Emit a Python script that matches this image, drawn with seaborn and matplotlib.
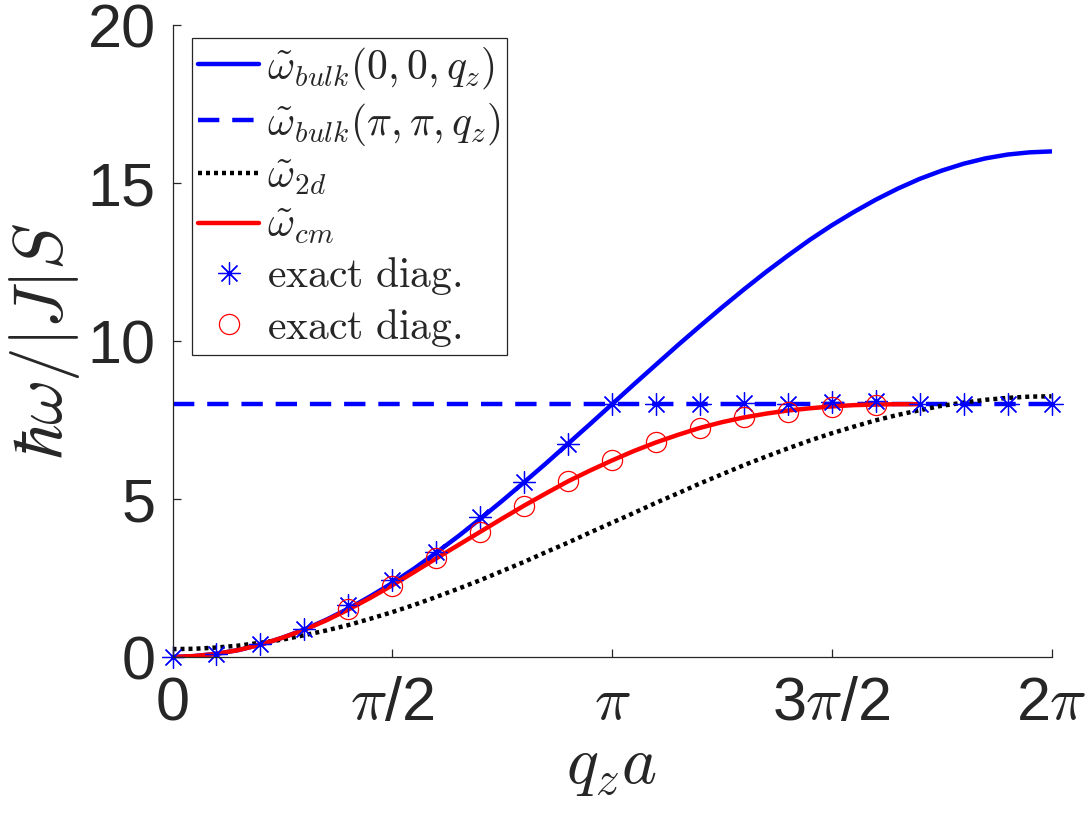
import numpy as np
import matplotlib
matplotlib.use("Agg")
import matplotlib.pyplot as plt
import seaborn as sns

# q_z a grid (units of pi) for the smooth curves, step pi/20
q_line = np.arange(41) / 20.0
w_bulk_00 = [0.0, 0.03, 0.10, 0.22, 0.39, 0.61, 0.87, 1.18, 1.53, 1.92,
             2.34, 2.80, 3.30, 3.82, 4.37, 4.94, 5.53, 6.13, 6.75, 7.37,
             8.00, 8.63, 9.25, 9.87, 10.47, 11.06, 11.63, 12.18, 12.70, 13.20,
             13.66, 14.08, 14.47, 14.82, 15.13, 15.39, 15.61, 15.78, 15.90, 15.97,
             16.00]
w_2d = [0.25, 0.26, 0.30, 0.36, 0.45, 0.55, 0.69, 0.84, 1.01, 1.21,
        1.42, 1.65, 1.90, 2.16, 2.43, 2.72, 3.01, 3.32, 3.62, 3.94,
        4.25, 4.56, 4.88, 5.18, 5.49, 5.78, 6.07, 6.34, 6.60, 6.85,
        7.08, 7.29, 7.49, 7.66, 7.81, 7.95, 8.05, 8.14, 8.20, 8.24,
        8.25]
# omega_cm stops at 1.7 pi
q_cm = np.arange(35) / 20.0
w_cm = [0.0, 0.03, 0.10, 0.22, 0.39, 0.61, 0.86, 1.16, 1.50, 1.87,
        2.27, 2.69, 3.12, 3.54, 3.96, 4.38, 4.79, 5.18, 5.56, 5.90,
        6.22, 6.52, 6.79, 7.03, 7.25, 7.43, 7.58, 7.70, 7.80, 7.87,
        7.93, 7.97, 7.99, 8.00, 8.00]
q_flat = [0.0, 2.0]
w_bulk_pp = [8.0, 8.0]

# exact diagonalisation points, step pi/10
q_ed = np.arange(21) / 10.0
ed_bulk = [0.0, 0.10, 0.40, 0.90, 1.65, 2.44, 3.33, 4.44, 5.55, 6.74,
           8.00, 8.00, 8.00, 8.05, 8.02, 8.08, 8.10, 8.00, 8.00, 8.00, 8.00]
q_ed_cm = np.arange(4, 17) / 10.0
ed_cm = [1.52, 2.25, 3.12, 3.94, 4.79, 5.58, 6.24, 6.80, 7.24, 7.58,
         7.76, 7.90, 7.97]

xticks = [0, 0.5, 1.0, 1.5, 2.0]
xtick_labels = ["0", r"$\pi$/2", r"$\pi$", r"3$\pi$/2", r"2$\pi$"]
yticks = [0, 5, 10, 15, 20]

sns.set_style("ticks")
plt.rcParams["font.family"] = ["Liberation Sans", "DejaVu Sans"]
plt.rcParams["mathtext.fontset"] = "cm"

dark = "#262626"
fig = plt.figure(figsize=(10.9, 8.25), dpi=100)
ax = fig.add_axes([172.5 / 1090, 1 - 657 / 825, 879 / 1090, 632 / 825])

sns.lineplot(x=q_line, y=w_bulk_00, ax=ax, color="blue", lw=3.2,
             errorbar=None, label=r"$\tilde{\omega}_{bulk}(0,0,q_z)$")
sns.lineplot(x=q_flat, y=w_bulk_pp, ax=ax, color="blue", lw=3.2,
             linestyle=(0, (4.8, 2.9)), errorbar=None,
             label=r"$\tilde{\omega}_{bulk}(\pi,\pi,q_z)$")
sns.lineplot(x=q_line, y=w_2d, ax=ax, color="black", lw=3.2,
             linestyle=(0, (0.9, 0.9)), errorbar=None,
             label=r"$\tilde{\omega}_{2d}$")
sns.lineplot(x=q_cm, y=w_cm, ax=ax, color="red", lw=3.2,
             errorbar=None, label=r"$\tilde{\omega}_{cm}$")
sns.lineplot(x=q_ed, y=ed_bulk, ax=ax, linestyle="", marker=(8, 2, 0),
             markersize=16, mec="blue", mew=0.9, color="blue",
             errorbar=None, label=r"$\mathrm{exact\ diag.}$", clip_on=False)
sns.lineplot(x=q_ed_cm, y=ed_cm, ax=ax, linestyle="", marker="o",
             markersize=14.5, mfc="none", mec="red", mew=0.9, color="red",
             errorbar=None, label=r"$\mathrm{exact\ diag.}$")

ax.set_xlim(0, 2)
ax.set_ylim(0, 20)
ax.set_xticks(xticks)
ax.set_xticklabels(xtick_labels)
ax.set_yticks(yticks)
sns.despine(ax=ax)
for side in ["left", "bottom"]:
    ax.spines[side].set_color(dark)
    ax.spines[side].set_linewidth(0.9)
ax.tick_params(direction="in", length=6, width=0.9, color=dark,
               labelcolor=dark, labelsize=44)
ax.tick_params(axis="x", pad=14)
ax.tick_params(axis="y", pad=12)

ax.set_xlabel(r"$q_z a$", fontsize=48, color=dark, labelpad=2)
ax.set_ylabel(r"$\hbar\omega/|J|S$", fontsize=50, color=dark, labelpad=4)

leg = ax.legend(loc="upper left", bbox_to_anchor=(0.022, 0.979),
                borderaxespad=0, fontsize=30, handlelength=1.46,
                handletextpad=0.2, labelspacing=0.22, borderpad=0.15,
                fancybox=False, framealpha=1, edgecolor=dark)
leg.get_frame().set_linewidth(0.9)

fig.savefig("out.png", dpi=100)
